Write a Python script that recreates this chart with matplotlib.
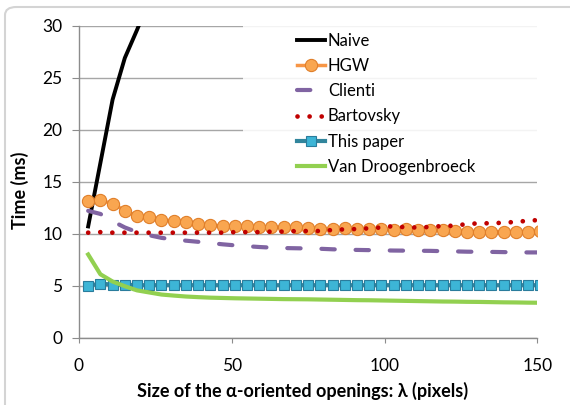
import matplotlib
matplotlib.use('Agg')
import matplotlib.pyplot as plt
from matplotlib.patches import FancyBboxPatch, Rectangle

# lambda values (pixels) sampled every 4
lam = list(range(3, 152, 4))

naive = [10.7, 16.8, 22.9, 26.9, 29.6, 32.5, 35.5]
hgw = [13.1, 13.2, 12.9, 12.2, 11.7, 11.6, 11.3, 11.25, 11.1, 10.9, 10.8, 10.75,
       10.7, 10.7, 10.65, 10.65, 10.6, 10.6, 10.55, 10.5, 10.5, 10.55, 10.5,
       10.45, 10.45, 10.4, 10.45, 10.4, 10.35, 10.35, 10.3, 10.2, 10.2, 10.2,
       10.2, 10.2, 10.2, 10.25]
clienti = [12.2, 11.9, 11.2, 10.6, 10.15, 9.85, 9.6, 9.45, 9.33, 9.22, 9.1, 8.98,
           8.88, 8.8, 8.72, 8.66, 8.62, 8.6, 8.58, 8.55, 8.5, 8.47, 8.44, 8.42,
           8.4, 8.38, 8.37, 8.36, 8.35, 8.32, 8.3, 8.27, 8.26, 8.25, 8.23, 8.21,
           8.2, 8.2]
bartovsky = [10.1, 10.15, 10.1, 10.1, 10.1, 10.1, 10.1, 10.1, 10.1, 10.1, 10.1,
             10.1, 10.15, 10.15, 10.15, 10.2, 10.2, 10.25, 10.26, 10.26, 10.36,
             10.42, 10.45, 10.52, 10.6, 10.74, 10.6, 10.6, 10.65, 10.74, 10.77,
             10.93, 11.0, 11.0, 11.06, 11.13, 11.25, 11.32]
this_paper = [5.0, 5.2, 5.1, 5.1, 5.05, 5.05, 5.05, 5.05, 5.05, 5.05, 5.05, 5.05,
              5.05, 5.05, 5.05, 5.05, 5.05, 5.05, 5.05, 5.05, 5.05, 5.05, 5.05,
              5.05, 5.05, 5.05, 5.05, 5.05, 5.05, 5.05, 5.05, 5.05, 5.05, 5.05,
              5.05, 5.05, 5.05, 5.05]
van_droog = [8.0, 6.1, 5.4, 4.95, 4.55, 4.35, 4.15, 4.05, 3.96, 3.9, 3.85, 3.82,
             3.79, 3.77, 3.75, 3.73, 3.71, 3.7, 3.69, 3.67, 3.65, 3.63, 3.61, 3.6,
             3.58, 3.56, 3.54, 3.52, 3.5, 3.48, 3.47, 3.45, 3.44, 3.42, 3.4, 3.39,
             3.37, 3.36]

xticks = [0, 50, 100, 150]
yticks = [0, 5, 10, 15, 20, 25, 30]

FONT = ['Lato', 'DejaVu Sans']
GRID = '#A6A6A6'
plt.rcParams['font.family'] = FONT

fig = plt.figure(figsize=(5.7, 4.05), dpi=100)
ax = fig.add_axes([79 / 570, 1 - 337.7 / 405, (537.3 - 79) / 570, (337.7 - 25.7) / 405])

# light rounded frame around the whole chart (only top/left edges visible)
fig.patches.append(FancyBboxPatch((5 / 570, -0.1), 1.2, 1.1 - 7 / 405,
                                  boxstyle='round,pad=0,rounding_size=0.02',
                                  transform=fig.transFigure, fill=False,
                                  ec='#D4D4D4', lw=1.5))

ax.plot(lam[:len(naive)], naive, color='black', lw=2.8, label='Naive')
ax.plot(lam, hgw, color='#F79646', lw=2.5, marker='o', ms=8.8,
        mfc='#F9A650', mec='#E07F2A', mew=0.8, label='HGW')
ax.plot(lam, clienti, color='#8064A2', lw=3.0, ls=(0, (3.2, 5.0)),
        dash_capstyle='round', label='Clienti')
ax.plot(lam, bartovsky, color='#C00000', lw=3.4, ls=(0, (0.01, 2.55)),
        dash_capstyle='round', label='Bartovsky')
ax.plot(lam, this_paper, color='#31859C', lw=3.0, marker='s', ms=6.5,
        mfc='#3DB5D6', mec='#2A7C9C', mew=0.8, label='This paper')
ax.plot(lam, van_droog, color='#92D050', lw=3.0, label='Van Droogenbroeck')

# semi-opaque legend area hides the gridlines behind it
ax.add_patch(Rectangle((53.7, 15.3), 96.3, 14.7, fc='white', ec='none',
                       alpha=0.88, zorder=1.5))

ax.set_xlim(0, 150)
ax.set_ylim(0, 30)
ax.set_xticks(xticks)
ax.set_yticks(yticks)
ax.yaxis.grid(True, color=GRID, lw=1.0)
ax.set_axisbelow(True)
for s in ['top', 'right']:
    ax.spines[s].set_visible(False)
for s in ['left', 'bottom']:
    ax.spines[s].set_color('#8C8C8C')
    ax.spines[s].set_linewidth(1.0)
ax.tick_params(axis='y', direction='out', length=5, color='#8C8C8C',
               labelsize=12.5, pad=7)
ax.tick_params(axis='x', direction='out', length=3.5, color='#8C8C8C',
               labelsize=12.5, pad=11)

fig.text(20 / 570, 1 - 190 / 405, 'Time (ms)', rotation=90, ha='center',
         va='center', fontsize=13, fontweight='bold')
fig.text(303 / 570, 1 - 391 / 405, 'Size of the α-oriented openings: λ (pixels)',
         ha='center', va='center', fontsize=13, fontweight='bold')

ax.legend(loc='upper left', bbox_to_anchor=(297 / 570, 1 - 32.5 / 405),
          bbox_transform=fig.transFigure, frameon=False, fontsize=12,
          handlelength=1.7, handletextpad=0.15, labelspacing=0.56,
          borderpad=0, borderaxespad=0)

fig.savefig('out.png', dpi=100)
